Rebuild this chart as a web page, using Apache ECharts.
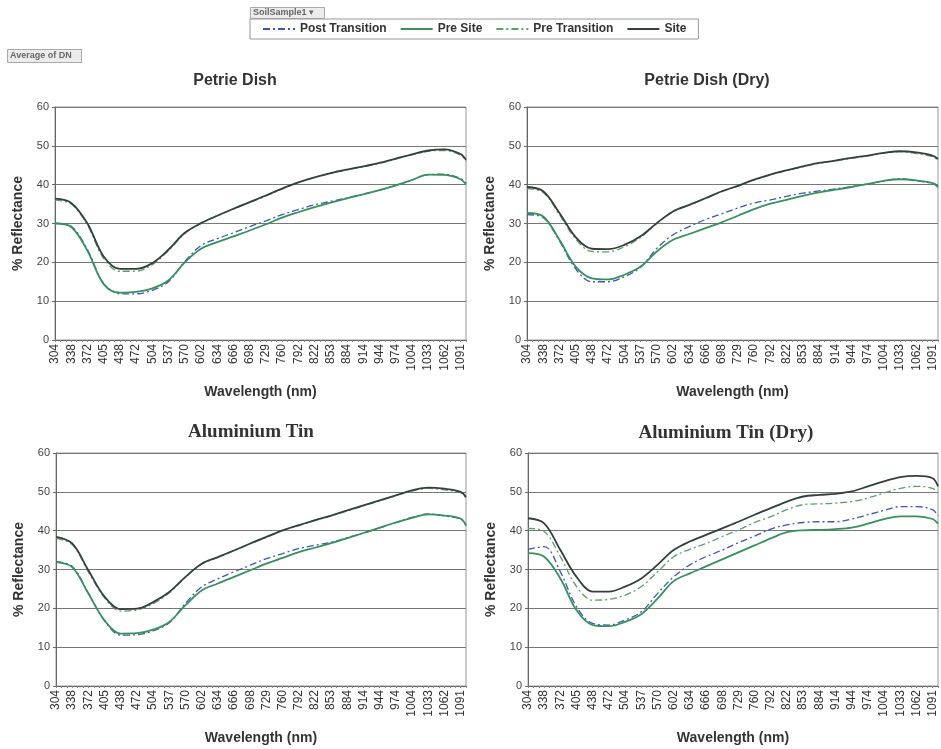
<!DOCTYPE html>
<html><head><meta charset="utf-8">
<script src="https://cdn.jsdelivr.net/npm/echarts@6/dist/echarts.min.js"></script>
<style>html,body{margin:0;padding:0;background:#fff}#c{width:941px;height:749px}</style>
</head><body><div id="c"></div>
<script>
// Tick labels of the wavelength axis (nm)
const wavelengthLabels = ['304','338','372','405','438','472','504','537','570','602','634','666','698','729','760','792','822','853','884','914','944','974','1004','1033','1062','1091'];
const seriesNames = ['Post Transition','Pre Site','Pre Transition','Site'];
const panelTitles = ['Petrie Dish','Petrie Dish (Dry)','Aluminium Tin','Aluminium Tin (Dry)'];

// % Reflectance read at each labelled wavelength, last value = right end of the axis
const petriePostTransition = [30.1,29.3,23.2,14.6,11.9,11.9,12.8,15.0,20.2,24.3,26.1,27.6,29.2,30.7,32.3,33.6,34.8,35.7,36.6,37.6,38.6,39.8,41.2,42.6,42.7,41.6,40.4];
const petriePreSite        = [30.0,29.1,23.0,14.4,12.2,12.4,13.3,15.4,20.0,23.5,25.2,26.7,28.2,29.8,31.5,32.9,34.2,35.4,36.5,37.5,38.6,39.8,41.2,42.6,42.5,41.4,40.1];
const petriePreTransition  = [36.0,35.0,29.6,21.0,17.7,17.7,19.4,23.0,27.4,30.0,32.0,33.7,35.4,37.1,38.9,40.6,41.9,42.9,43.8,44.6,45.5,46.6,47.7,48.6,48.8,47.6,46.0];
const petrieSite           = [36.4,35.3,30.0,21.5,18.3,18.3,19.8,23.3,27.6,30.1,32.0,33.8,35.5,37.2,39.0,40.6,41.9,43.0,43.9,44.7,45.6,46.7,47.8,48.8,49.1,47.9,46.4];

const petrieDryPostTransition = [32.3,31.5,25.5,18.3,15.0,15.0,16.3,18.7,23.6,27.1,29.2,31.0,32.5,34.0,35.3,36.1,37.0,37.8,38.4,38.9,39.5,40.2,41.0,41.5,41.0,40.3,39.3];
const petrieDryPreSite        = [32.7,31.8,25.8,18.9,15.9,15.6,16.8,18.9,22.8,25.8,27.3,28.8,30.3,32.0,33.7,35.1,36.1,37.1,38.0,38.7,39.4,40.2,41.0,41.4,41.1,40.4,39.7];
const petrieDryPreTransition  = [39.0,38.0,32.3,26.0,22.8,22.7,24.0,26.4,30.0,33.0,34.7,36.4,38.2,39.6,41.2,42.5,43.6,44.6,45.5,46.1,46.8,47.4,48.1,48.5,48.0,47.2,46.2];
const petrieDrySite           = [39.4,38.3,32.7,26.5,23.5,23.4,24.5,26.7,30.1,33.1,34.8,36.5,38.3,39.7,41.3,42.6,43.7,44.7,45.6,46.2,46.9,47.5,48.2,48.6,48.3,47.5,46.6];

const tinPostTransition = [32.0,30.8,23.9,16.8,13.1,13.2,14.2,16.3,21.3,25.5,27.6,29.4,31.1,32.8,34.1,35.4,36.2,37.0,38.2,39.4,40.7,42.1,43.4,44.3,43.8,43.0,41.3];
const tinPreSite        = [31.9,30.6,23.8,16.9,13.5,13.6,14.5,16.5,20.8,24.6,26.4,28.1,29.8,31.5,33.0,34.5,35.6,36.8,38.1,39.4,40.8,42.1,43.3,44.2,43.9,43.1,41.4];
const tinPreTransition  = [38.0,36.4,29.4,22.7,19.3,19.6,21.2,24.0,28.0,31.4,33.1,34.8,36.6,38.3,40.0,41.3,42.6,43.8,45.1,46.4,47.7,49.0,50.2,50.9,50.5,49.8,48.4];
const tinSite           = [38.4,36.7,29.8,23.0,19.8,19.9,21.6,24.2,28.1,31.5,33.2,34.9,36.7,38.4,40.1,41.4,42.7,43.9,45.2,46.5,47.8,49.1,50.4,51.1,50.8,50.0,48.7];

const tinDryPostTransition = [35.2,35.9,29.4,20.4,16.1,15.7,17.0,19.1,23.8,28.1,31.2,33.3,35.0,36.9,38.6,40.4,41.5,42.1,42.3,42.3,43.0,44.1,45.2,46.2,46.2,45.4,43.8];
const tinDryPreSite        = [34.2,33.3,27.7,19.5,15.7,15.4,16.5,18.5,22.5,27.0,29.0,30.8,32.6,34.4,36.2,38.0,39.6,40.1,40.2,40.4,40.8,41.8,43.0,43.7,43.7,43.0,41.8];
const tinDryPreTransition  = [40.6,39.8,33.3,25.6,22.1,22.3,23.4,25.6,29.4,33.3,35.2,36.7,38.5,40.2,42.1,43.6,45.4,46.7,46.9,47.1,47.5,48.4,49.7,50.9,51.4,50.9,49.7];
const tinDrySite           = [43.2,41.9,35.0,28.1,24.3,24.3,25.6,27.7,31.2,35.0,37.2,38.9,40.6,42.3,44.1,45.8,47.5,48.8,49.2,49.5,50.1,51.4,52.7,53.8,54.1,53.5,51.4];

const panelData = [
  [petriePostTransition, petriePreSite, petriePreTransition, petrieSite],
  [petrieDryPostTransition, petrieDryPreSite, petrieDryPreTransition, petrieDrySite],
  [tinPostTransition, tinPreSite, tinPreTransition, tinSite],
  [tinDryPostTransition, tinDryPreSite, tinDryPreTransition, tinDrySite]
];

// category axis: each labelled wavelength followed by two unlabelled sampling slots, plus an axis end slot
const categories = [];
wavelengthLabels.forEach((w, i) => {
  categories.push(w);
  if (i < wavelengthLabels.length - 1) { categories.push(''); categories.push(''); }
});
categories.push('');
function spread(vals) {
  const out = [];
  for (let i = 0; i < wavelengthLabels.length; i++) {
    out.push(vals[i]);
    if (i < wavelengthLabels.length - 1) { out.push(null, null); }
  }
  out.push(vals[wavelengthLabels.length]);
  return out;
}

const SANS = 'Liberation Sans, Arial, DejaVu Sans, sans-serif';
const SERIF = 'Liberation Serif, Times New Roman, serif';
const grids = [
  {left: 55, top: 107, width: 411, height: 233},
  {left: 527, top: 107, width: 411, height: 233},
  {left: 56, top: 453, width: 410, height: 233},
  {left: 528, top: 453, width: 410, height: 233}
];
const styles = [
  {color: '#3f55b5', width: 1.3, type: [7, 3, 2, 3]},
  {color: '#3a8f5e', width: 1.8, type: 'solid'},
  {color: '#5f9c6f', width: 1.3, type: [7, 3, 2, 3]},
  {color: '#34403b', width: 1.8, type: 'solid'}
];

const xAxes = [], yAxes = [], series = [];
grids.forEach((g, gi) => {
  xAxes.push({
    type: 'category', gridIndex: gi, data: categories, boundaryGap: false,
    name: 'Wavelength (nm)', nameLocation: 'middle', nameGap: 45,
    nameTextStyle: {fontFamily: SANS, fontSize: 14, fontWeight: 'bold', color: '#333'},
    axisLine: {lineStyle: {color: '#666', width: 1}},
    axisTick: {show: true, interval: 0, length: 2, lineStyle: {color: '#888'}},
    axisLabel: {interval: (idx, val) => val !== '', rotate: 90, margin: 4, fontFamily: SANS, fontSize: 12, color: '#333'},
    splitLine: {show: false}
  });
  yAxes.push({
    type: 'value', gridIndex: gi, min: 0, max: 60, interval: 10,
    name: '% Reflectance', nameLocation: 'middle', nameGap: 30, nameRotate: 90,
    nameTextStyle: {fontFamily: SANS, fontSize: 14, fontWeight: 'bold', color: '#333'},
    axisLine: {show: true, lineStyle: {color: '#666', width: 1}},
    axisTick: {show: true, length: 3, lineStyle: {color: '#666'}},
    axisLabel: {margin: 6, fontFamily: SANS, fontSize: 11, color: '#444'},
    splitLine: {show: true, lineStyle: {color: '#777', width: 1}}
  });
  panelData[gi].forEach((vals, si) => {
    series.push({
      type: 'line', name: seriesNames[si], xAxisIndex: gi, yAxisIndex: gi,
      data: spread(vals), connectNulls: true, smooth: 0.35, symbol: 'none',
      lineStyle: styles[si], itemStyle: {color: styles[si].color}, z: 2 + si
    });
  });
});

const titlePos = [
  {x: 235, y: 81, font: 'bold 16px ' + SANS},
  {x: 707, y: 81, font: 'bold 16px ' + SANS},
  {x: 251, y: 432, font: 'bold 19px ' + SERIF},
  {x: 726, y: 433, font: 'bold 19px ' + SERIF}
];
const graphic = titlePos.map((p, i) => ({
  type: 'text', x: p.x, y: p.y,
  style: {text: panelTitles[i], font: p.font, fill: '#333', align: 'center', verticalAlign: 'middle'}
}));
graphic.push(
  {type: 'rect', shape: {x: 250.5, y: 7.5, width: 74, height: 11}, style: {fill: '#ececec', stroke: '#aaa', lineWidth: 1}},
  {type: 'text', x: 253, y: 13, style: {text: 'SoilSample1 ▾', font: 'bold 9px ' + SANS, fill: '#666', verticalAlign: 'middle'}},
  {type: 'rect', shape: {x: 7.5, y: 49.5, width: 74, height: 13}, style: {fill: '#ececec', stroke: '#aaa', lineWidth: 1}},
  {type: 'text', x: 10, y: 56, style: {text: 'Average of DN', font: 'bold 9px ' + SANS, fill: '#666', verticalAlign: 'middle'}}
);

const chart = echarts.init(document.getElementById('c'), null, {renderer: 'canvas'});
chart.setOption({
  backgroundColor: '#ffffff',
  animation: false,
  grid: grids.map(g => Object.assign({show: true, borderColor: '#999', borderWidth: 1, backgroundColor: 'transparent'}, g)),
  legend: {
    data: seriesNames, left: 250, top: 19, orient: 'horizontal',
    padding: [4, 12], itemGap: 13, itemWidth: 32, itemHeight: 10,
    borderColor: '#999', borderWidth: 1, backgroundColor: '#fff',
    itemStyle: {color: 'transparent', borderColor: 'transparent', borderWidth: 0, opacity: 0},
    textStyle: {fontFamily: SANS, fontSize: 12, fontWeight: 'bold', color: '#333'}
  },
  xAxis: xAxes, yAxis: yAxes, series: series, graphic: graphic
});
</script></body></html>
